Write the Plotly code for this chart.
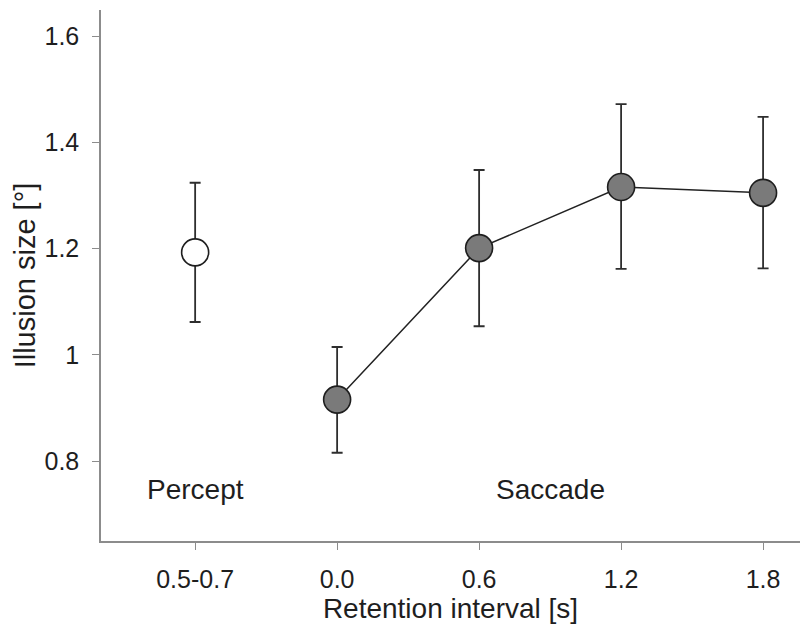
import plotly.graph_objects as go

categories = ["0.5-0.7", "0.0", "0.6", "1.2", "1.8"]

percept_x = ["0.5-0.7"]
percept_y = [1.193]
percept_err = [0.131]

saccade_x = ["0.0", "0.6", "1.2", "1.8"]
saccade_y = [0.916, 1.201, 1.316, 1.305]
saccade_err_plus = [0.099, 0.147, 0.156, 0.143]
saccade_err_minus = [0.100, 0.147, 0.154, 0.142]

FONT = "Liberation Sans, Arial, sans-serif"
TXT = "#1e1e1e"
AX = "#8c8c8c"

fig = go.Figure()

fig.add_trace(go.Scatter(
    x=saccade_x, y=saccade_y, mode="lines+markers",
    line=dict(color="#222222", width=1.5),
    marker=dict(size=27, color="#7a7a7a", line=dict(color="#1e1e1e", width=1.6)),
    error_y=dict(type="data", array=saccade_err_plus, arrayminus=saccade_err_minus,
                 color="#2e2e2e", thickness=1.8, width=5.5),
    showlegend=False,
))

fig.add_trace(go.Scatter(
    x=percept_x, y=percept_y, mode="markers",
    marker=dict(size=27, color="white", line=dict(color="#1e1e1e", width=1.6)),
    error_y=dict(type="data", array=percept_err, color="#2e2e2e", thickness=1.8, width=5.5),
    showlegend=False,
))

fig.add_annotation(x=0, y=0.746, text="Percept", showarrow=False,
                   font=dict(family=FONT, size=28, color=TXT))
fig.add_annotation(x=2.5, y=0.746, text="Saccade", showarrow=False,
                   font=dict(family=FONT, size=28, color=TXT))

fig.update_layout(
    width=801, height=624,
    margin=dict(l=101, r=1, t=10, b=83),
    paper_bgcolor="white", plot_bgcolor="white",
    font=dict(family=FONT, color=TXT),
    xaxis=dict(
        type="category", categoryorder="array", categoryarray=categories,
        range=[-0.663, 4.26], showgrid=False, zeroline=False,
        showline=True, linecolor=AX, linewidth=1.5,
        ticks="outside", ticklen=7, tickcolor=AX, tickwidth=1.2,
        tickfont=dict(family=FONT, size=25, color=TXT),
        ticklabelstandoff=8,
        title=dict(text="Retention interval [s]", font=dict(family=FONT, size=28, color=TXT), standoff=1),
    ),
    yaxis=dict(
        range=[0.65, 1.649], tickvals=[0.8, 1.0, 1.2, 1.4, 1.6],
        ticktext=["0.8", "1", "1.2", "1.4", "1.6"],
        showgrid=False, zeroline=False,
        showline=True, linecolor=AX, linewidth=1.5,
        ticks="outside", ticklen=7, tickcolor=AX, tickwidth=1.2,
        tickfont=dict(family=FONT, size=25, color=TXT),
        ticklabelstandoff=8,
        title=dict(text="Illusion size [°]", font=dict(family=FONT, size=29, color=TXT), standoff=0),
    ),
)

fig.write_html("out.html")
